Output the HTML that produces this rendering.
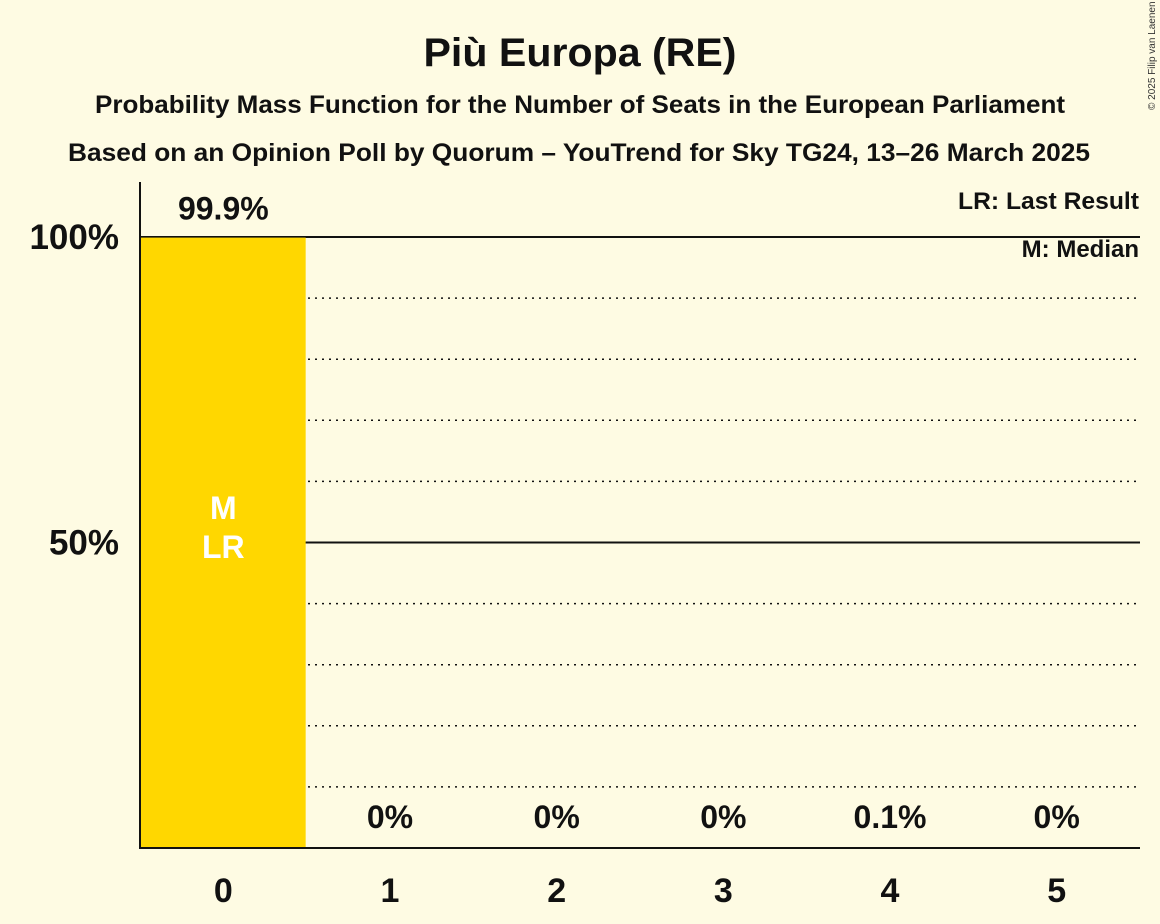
<!DOCTYPE html>
<html><head><meta charset="utf-8"><style>
body{margin:0;background:#fefbe3;}
svg{display:block;font-family:"Liberation Sans",sans-serif;}
</style></head><body>
<svg id="c" width="1160" height="924" xmlns="http://www.w3.org/2000/svg">
<rect width="1160" height="924" fill="#fefbe3"/>
<text x="580" y="66" text-anchor="middle" font-size="40" font-weight="bold" fill="#111" textLength="313" lengthAdjust="spacingAndGlyphs">Più Europa (RE)</text>
<text x="580" y="113" text-anchor="middle" font-size="25" font-weight="bold" fill="#111" textLength="970" lengthAdjust="spacingAndGlyphs">Probability Mass Function for the Number of Seats in the European Parliament</text>
<text x="579" y="161" text-anchor="middle" font-size="25" font-weight="bold" fill="#111" textLength="1022" lengthAdjust="spacingAndGlyphs">Based on an Opinion Poll by Quorum – YouTrend for Sky TG24, 13–26 March 2025</text>
<text x="1155" y="110" font-size="10" fill="#333" transform="rotate(-90 1155 110)">© 2025 Filip van Laenen</text>
<g id="grid"></g>
<g id="bars"></g>
<line x1="140" y1="182" x2="140" y2="848" stroke="#111" stroke-width="2"/>
<line x1="139" y1="848" x2="1140" y2="848" stroke="#111" stroke-width="2"/>
<text x="1139" y="209" text-anchor="end" font-size="24" font-weight="bold" fill="#111" textLength="181" lengthAdjust="spacingAndGlyphs">LR: Last Result</text>
<text x="1139" y="257" text-anchor="end" font-size="24" font-weight="bold" fill="#111">M: Median</text>
</svg>
<script>
const categories=[0,1,2,3,4,5];
const values=[99.9,0,0,0,0.1,0];
const valueLabels=["99.9%","0%","0%","0%","0.1%","0%"];
const yTicks=[50,100];
const yTickLabels=["50%","100%"];
const NS="http://www.w3.org/2000/svg";
const x0=140,x1=1140,y0=848,y100=237;
const bw=(x1-x0)/categories.length;
const y=v=>y0-(y0-y100)*v/100;
const xc=i=>x0+bw*(i+0.5);
function mk(t,a,p){const e=document.createElementNS(NS,t);for(const k in a)e.setAttribute(k,a[k]);p.appendChild(e);return e;}
const g=document.getElementById('grid'),b=document.getElementById('bars'),s=document.getElementById('c');
for(let v=10;v<=100;v+=10){
 const solid=yTicks.includes(v);
 const l=mk('line',{x1:x0,x2:x1,y1:y(v),y2:y(v),stroke:'#111','stroke-width':solid?2:1.5,'stroke-dasharray':solid?'none':'2,5'},g);
 
 
}
yTicks.forEach((v,i)=>{
 const t=mk('text',{x:119,y:y(v)+12,'text-anchor':'end','font-size':35,'font-weight':'bold',fill:'#111'},s);
 t.textContent=yTickLabels[i];
 
 
});
categories.forEach((c,i)=>{
 const h=y0-y(values[i]);
 if(h>1){
  const r=mk('rect',{x:x0+bw*i+1,y:y(values[i]),width:bw-2,height:h,fill:'#ffd700'},b);
  
  
 }
 const big=values[i]>50;
 const t=mk('text',{x:xc(i),y:big?y(values[i])-18:y0-20,'text-anchor':'middle','font-size':32,'font-weight':'bold',fill:'#111'},s);
 t.textContent=valueLabels[i];
 
 
 const xl=mk('text',{x:xc(i),y:902,'text-anchor':'middle','font-size':34,'font-weight':'bold',fill:'#111'},s);
 xl.textContent=c;
 
 
});
const m=mk('text',{x:xc(0),y:519,'text-anchor':'middle','font-size':32,'font-weight':'bold',fill:'#fff'},s);
m.textContent='M';


const lr=mk('text',{x:xc(0),y:558,'text-anchor':'middle','font-size':32,'font-weight':'bold',fill:'#fff'},s);
lr.textContent='LR';


</script>
</body></html>
